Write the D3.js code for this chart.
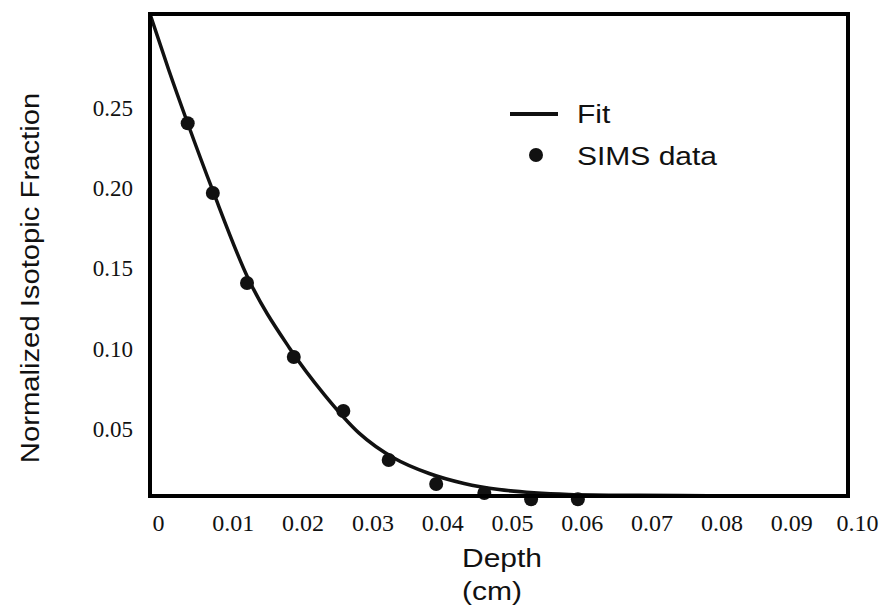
<!DOCTYPE html>
<html>
<head>
<meta charset="utf-8">
<script src="https://cdn.jsdelivr.net/npm/d3@7"></script>
<style>
  body { margin: 0; background: #fff; }
  svg { display: block; }
</style>
</head>
<body>
<svg id="graph" width="881" height="610"></svg>
<script>
// SIMS data points (depth in cm, normalized fraction)
var simsDepth = [0.0054, 0.0090, 0.0139, 0.0206, 0.0277, 0.0342, 0.0410, 0.0479, 0.0546, 0.0613];
var simsValue = [0.232, 0.1886, 0.1326, 0.0865, 0.0529, 0.0224, 0.0075, 0.0019, -0.002, -0.002];

// fit curve
var fitDepth = [0, 0.0027, 0.0054, 0.009, 0.014, 0.02, 0.025, 0.03, 0.035, 0.04, 0.045, 0.05, 0.055, 0.06, 0.07, 0.08, 0.1];
var fitValue = [0.300, 0.265, 0.232, 0.190, 0.136, 0.092, 0.063, 0.039, 0.0235, 0.014, 0.0078, 0.0040, 0.0020, 0.0010, 0.0004, 0.0002, 0.0001];

var xTicks = [0, 0.01, 0.02, 0.03, 0.04, 0.05, 0.06, 0.07, 0.08, 0.09, 0.10];
var yTicks = [0.05, 0.10, 0.15, 0.20, 0.25];

var svg = d3.select("#graph"),
    margin = {top: 14, right: 33, bottom: 114, left: 150},
    width = 881 - margin.left - margin.right,
    height = 610 - margin.top - margin.bottom;

var x = d3.scaleLinear().domain([0, 0.1]).range([0, width]);
var y = d3.scaleLinear().domain([0, 0.3]).range([height, 0]);

var g = svg.append("g")
    .attr("transform", "translate(" + margin.left + "," + margin.top + ")");

var serif = "'Liberation Serif', 'DejaVu Serif', serif";

// x axis, labels sit a bit right of the ticks like in the scan
var xAxis = g.append("g")
    .attr("transform", "translate(0," + height + ")")
    .call(d3.axisBottom(x).tickValues(xTicks).tickSize(0).tickPadding(18)
        .tickFormat(function(d) { return d === 0 ? "0" : d3.format(".2f")(d); }));
xAxis.select(".domain").remove();
xAxis.selectAll("text")
    .attr("dx", function(d) { return d === 0 ? 8 : (d === 0.1 ? 9 : 13); })
    .style("font-family", serif)
    .style("font-size", "24px")
    .style("fill", "#111");

// y axis, labels sit a bit below the ticks
var yAxis = g.append("g")
    .call(d3.axisLeft(y).tickValues(yTicks).tickSize(0).tickPadding(17)
        .tickFormat(d3.format(".2f")));
yAxis.select(".domain").remove();
yAxis.selectAll("text")
    .attr("dy", "0.9em")
    .style("font-family", serif)
    .style("font-size", "23px")
    .style("fill", "#111");

// clip so the line stays in the frame
svg.append("defs").append("clipPath")
    .attr("id", "clip")
  .append("rect")
    .attr("x", 0).attr("y", 0)
    .attr("width", width).attr("height", height);

var fit = fitDepth.map(function(d, i) { return {x: d, y: fitValue[i]}; });
var sims = simsDepth.map(function(d, i) { return {x: d, y: simsValue[i]}; });

var line = d3.line().curve(d3.curveMonotoneX)
    .x(function(d) { return x(d.x); })
    .y(function(d) { return y(d.y); });

g.append("path")
    .datum(fit)
    .attr("clip-path", "url(#clip)")
    .attr("d", line)
    .attr("fill", "none")
    .attr("stroke", "#111")
    .attr("stroke-width", 3.5);

g.selectAll(".dot")
    .data(sims)
  .enter().append("circle")
    .attr("class", "dot")
    .attr("cx", function(d) { return x(d.x); })
    .attr("cy", function(d) { return y(d.y); })
    .attr("r", 7)
    .attr("fill", "#111");

// frame
g.append("rect")
    .attr("width", width)
    .attr("height", height)
    .attr("fill", "none")
    .attr("stroke", "#000")
    .attr("stroke-width", 4);

// legend
var leg = svg.append("g").attr("transform", "translate(510,114)");
leg.append("line")
    .attr("x1", 0).attr("x2", 48)
    .attr("stroke", "#111").attr("stroke-width", 4);
leg.append("circle")
    .attr("cx", 26).attr("cy", 41).attr("r", 7).attr("fill", "#111");

var sans = "'Liberation Sans', Arial, sans-serif";

function wideText(parent, tx, ty, str, anchor) {
    return parent.append("text")
        .attr("transform", "translate(" + tx + "," + ty + ") scale(1.2,1)")
        .attr("text-anchor", anchor || "start")
        .attr("dy", "0.35em")
        .style("font-family", sans)
        .style("font-size", "25px")
        .style("fill", "#111")
        .text(str);
}

wideText(leg, 67, 0, "Fit");
wideText(leg, 67, 42, "SIMS data");

// axis titles
wideText(svg, 462, 558, "Depth");
wideText(svg, 462, 591, "(cm)");

svg.append("text")
    .attr("transform", "translate(30,278) rotate(-90) scale(1.17,1)")
    .attr("text-anchor", "middle")
    .attr("dy", "0.35em")
    .style("font-family", sans)
    .style("font-size", "25px")
    .style("fill", "#111")
    .text("Normalized Isotopic Fraction");
</script>
</body>
</html>
